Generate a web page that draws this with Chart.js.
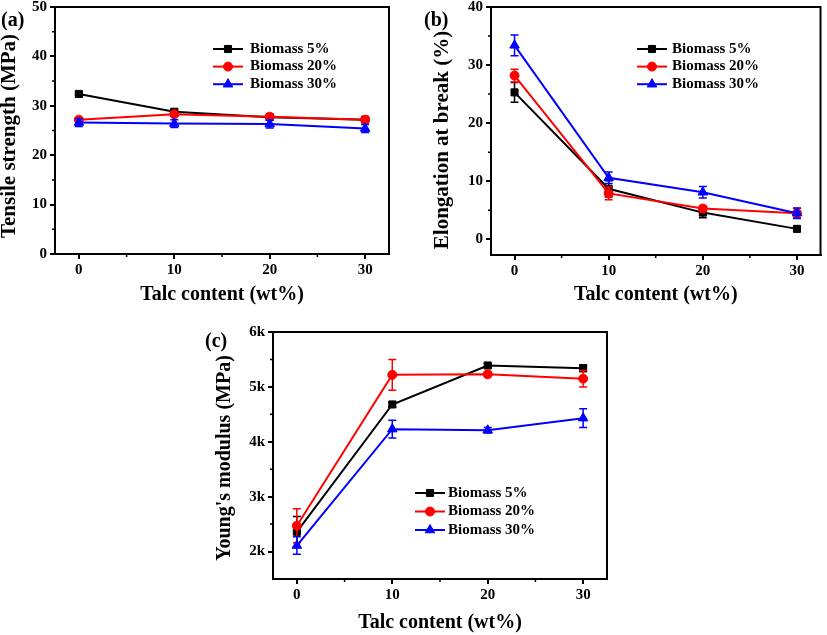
<!DOCTYPE html>
<html><head><meta charset="utf-8">
<script src="https://cdn.jsdelivr.net/npm/chart.js@4.4.1/dist/chart.umd.min.js"></script>
<style>
html,body{margin:0;padding:0;background:#fff;}
body{width:827px;height:635px;position:relative;overflow:hidden;}
canvas{position:absolute;}
</style></head><body>
<canvas id="ca" width="414" height="310" style="left:0;top:0;width:414px;height:310px"></canvas>
<canvas id="cb" width="413" height="310" style="left:414px;top:0;width:413px;height:310px"></canvas>
<canvas id="cc" width="430" height="325" style="left:200px;top:310px;width:430px;height:325px"></canvas>
<script>
// ---------- data ----------
const talc = [0, 10, 20, 30];
const talcTicks = [0, 10, 20, 30];
const seriesNames = ['Biomass 5%', 'Biomass 20%', 'Biomass 30%'];
const xTitle = 'Talc content (wt%)';

// (a) Tensile strength (MPa)
const tensile5 = [32.4, 28.8, 27.7, 27.2];
const tensile20 = [27.2, 28.3, 27.8, 27.2];
const tensile30 = [26.6, 26.4, 26.3, 25.4];
const tensileErr5 = [0.3, 0.4, 0.3, 0.4];
const tensileErr20 = [0.4, 0.4, 0.5, 0.5];
const tensileErr30 = [0.8, 0.8, 0.8, 0.8];
const tensileTicks = [0, 10, 20, 30, 40, 50];

// (b) Elongation at break (%)
const elong5 = [25.3, 8.7, 4.6, 1.8];
const elong20 = [28.2, 7.9, 5.3, 4.5];
const elong30 = [33.4, 10.6, 8.1, 4.5];
const elongErr5 = [1.7, 1.4, 0.9, 0.3];
const elongErr20 = [1.1, 1.1, 0.5, 0.8];
const elongErr30 = [1.8, 1.0, 1.0, 0.9];
const elongTicks = [0, 10, 20, 30, 40];

// (c) Young's modulus (MPa)
const modulus5 = [2360, 4680, 5390, 5340];
const modulus20 = [2470, 5220, 5230, 5150];
const modulus30 = [2110, 4230, 4210, 4430];
const modulusErr5 = [280, 50, 40, 60];
const modulusErr20 = [310, 280, 40, 150];
const modulusErr30 = [160, 160, 50, 170];
const modulusTicks = [2000, 3000, 4000, 5000, 6000];
const modulusTickLabels = ['2k', '3k', '4k', '5k', '6k'];

// ---------- styles ----------
const FONT = "'Liberation Serif','Times New Roman',serif";
const colors = ['#000000', '#ff0000', '#0000ff'];
const styles = ['rect', 'circle', 'triangle'];
const radii = [5, 4.5, 5.5];

function mids(arr) { const m = []; for (let i = 0; i < arr.length - 1; i++) m.push((arr[i] + arr[i + 1]) / 2); return m; }

function makeDatasets(vals, errs) {
  return vals.map((v, i) => ({
    label: seriesNames[i],
    data: talc.map((x, j) => ({ x: x, y: v[j] })),
    errors: errs[i],
    borderColor: colors[i], backgroundColor: colors[i],
    pointBackgroundColor: colors[i], pointBorderColor: colors[i],
    pointStyle: styles[i], pointRadius: radii[i], pointBorderWidth: 1,
    pointHoverRadius: radii[i],
    borderWidth: 2, tension: 0, order: 3 - i, clip: false
  }));
}

function drawMarker(ctx, style, r, x, y, color) {
  ctx.save();
  ctx.fillStyle = color; ctx.strokeStyle = color; ctx.lineWidth = 1;
  ctx.beginPath();
  if (style === 'rect') { const s = r * Math.SQRT1_2; ctx.rect(x - s, y - s, 2 * s, 2 * s); }
  else if (style === 'circle') { ctx.arc(x, y, r, 0, 2 * Math.PI); }
  else {
    let rad = 0;
    ctx.moveTo(x + Math.sin(rad) * r, y - Math.cos(rad) * r);
    rad += 2 * Math.PI / 3; ctx.lineTo(x + Math.sin(rad) * r, y - Math.cos(rad) * r);
    rad += 2 * Math.PI / 3; ctx.lineTo(x + Math.sin(rad) * r, y - Math.cos(rad) * r);
    ctx.closePath();
  }
  ctx.fill(); ctx.stroke();
  ctx.restore();
}

function buildChart(id, p) {
  const plugins = [
    { id: 'frame',
      beforeDatasetsDraw(chart) {
        const a = chart.chartArea, ctx = chart.ctx;
        ctx.save(); ctx.strokeStyle = '#000'; ctx.lineWidth = 2;
        ctx.strokeRect(a.left, a.top, a.right - a.left, a.bottom - a.top);
        ctx.restore();
      } },
    { id: 'errorBars',
      beforeDatasetDraw(chart, args) {
        const ds = chart.data.datasets[args.index];
        const xs = chart.scales.x, ys = chart.scales.y, ctx = chart.ctx;
        ctx.save(); ctx.strokeStyle = ds.borderColor; ctx.lineWidth = 1.5;
        ds.data.forEach((pt, j) => {
          const e = ds.errors[j];
          const px = xs.getPixelForValue(pt.x);
          const t = ys.getPixelForValue(pt.y + e), b = ys.getPixelForValue(pt.y - e);
          ctx.beginPath();
          ctx.moveTo(px, t); ctx.lineTo(px, b);
          ctx.moveTo(px - 4, t); ctx.lineTo(px + 4, t);
          ctx.moveTo(px - 4, b); ctx.lineTo(px + 4, b);
          ctx.stroke();
        });
        ctx.restore();
      } },
    { id: 'minorTicks',
      afterDraw(chart) {
        const a = chart.chartArea, ctx = chart.ctx, xs = chart.scales.x, ys = chart.scales.y;
        ctx.save(); ctx.strokeStyle = '#000'; ctx.lineWidth = 1.5;
        ctx.beginPath();
        mids(talcTicks).forEach(v => { const px = xs.getPixelForValue(v); ctx.moveTo(px, a.bottom); ctx.lineTo(px, a.bottom + 3); });
        mids(p.yTicks).forEach(v => { const py = ys.getPixelForValue(v); ctx.moveTo(a.left, py); ctx.lineTo(a.left - 3, py); });
        ctx.stroke(); ctx.restore();
      } },
    { id: 'seriesKey',
      afterDraw(chart) {
        const ctx = chart.ctx, L = p.legend;
        chart.data.datasets.forEach((ds, i) => {
          const y = L.y + i * L.rowH;
          ctx.save(); ctx.strokeStyle = ds.borderColor; ctx.lineWidth = 2;
          ctx.beginPath(); ctx.moveTo(L.x, y); ctx.lineTo(L.x + L.len, y); ctx.stroke(); ctx.restore();
          drawMarker(ctx, ds.pointStyle, ds.pointRadius, L.x + L.len / 2, y, ds.borderColor);
          ctx.save(); ctx.fillStyle = '#000'; ctx.font = 'bold 15px ' + FONT;
          ctx.textAlign = 'left'; ctx.textBaseline = 'middle';
          ctx.fillText(ds.label, L.textX, y); ctx.restore();
        });
      } },
    { id: 'panelText',
      afterDraw(chart) {
        const ctx = chart.ctx;
        ctx.save(); ctx.fillStyle = '#000'; ctx.font = 'bold 20px ' + FONT;
        ctx.textAlign = 'left'; ctx.textBaseline = 'middle';
        ctx.fillText(p.label.text, p.label.x, p.label.y); ctx.restore();
        // y axis title
        const T = p.yTitle;
        ctx.save(); ctx.fillStyle = '#000'; ctx.font = 'bold ' + T.size + 'px ' + FONT;
        ctx.translate(T.x, T.y); ctx.rotate(-Math.PI / 2);
        ctx.textAlign = 'center'; ctx.textBaseline = 'middle';
        ctx.fillText(T.text, 0, 0); ctx.restore();
      } }
  ];
  const zeroPad = s => { s.paddingLeft = 0; s.paddingRight = 0; s.paddingTop = 0; s.paddingBottom = 0; };
  return new Chart(document.getElementById(id), {
    type: 'line',
    data: { datasets: makeDatasets(p.values, p.errors) },
    options: {
      responsive: false, animation: false, devicePixelRatio: 1,
      events: [],
      layout: { padding: { top: p.padTop, right: p.padRight, left: 0, bottom: 0 } },
      plugins: { legend: { display: false }, tooltip: { enabled: false } },
      scales: {
        x: {
          type: 'linear', position: 'bottom', min: -2.5, max: 32.5,
          afterBuildTicks: s => { s.ticks = talcTicks.map(v => ({ value: v })); },
          afterFit: s => { s.height = p.xHeight; zeroPad(s); },
          grid: { display: true, drawOnChartArea: false, drawTicks: true, tickLength: 5, color: '#000', lineWidth: 2 },
          border: { display: true, color: '#000', width: 2 },
          ticks: { color: '#000', font: { family: FONT, size: 15, weight: 'bold', lineHeight: 1 }, padding: 4, maxRotation: 0, autoSkip: false },
          title: { display: true, text: xTitle, color: '#000', font: { family: FONT, size: 20, weight: 'bold', lineHeight: 1 }, padding: { top: 0, bottom: p.xTitlePad } }
        },
        y: {
          type: 'linear', position: 'left', min: p.yMin, max: p.yMax,
          afterBuildTicks: s => { s.ticks = p.yTicks.map(v => ({ value: v })); },
          afterFit: s => { s.width = p.yWidth; zeroPad(s); },
          grid: { display: true, drawOnChartArea: false, drawTicks: true, tickLength: 5, color: '#000', lineWidth: 2 },
          border: { display: true, color: '#000', width: 2 },
          ticks: { color: '#000', font: { family: FONT, size: 15, weight: 'bold', lineHeight: 1 }, padding: 3, autoSkip: false,
                   callback: (v, i) => p.yLabels ? p.yLabels[i] : String(v) },
          title: { display: false }
        }
      }
    },
    plugins: plugins
  });
}

buildChart('ca', {
  values: [tensile5, tensile20, tensile30], errors: [tensileErr5, tensileErr20, tensileErr30],
  yMin: 0, yMax: 50, yTicks: tensileTicks,
  yTitle: { text: 'Tensile strength (MPa)', size: 21, x: 9.5, y: 136 },
  padTop: 7, padRight: 25, yWidth: 55, xHeight: 56, xTitlePad: 5,
  legend: { x: 213, y: 49, len: 30, textX: 250, rowH: 17.6 },
  label: { text: '(a)', x: 1, y: 21 }
});
buildChart('cb', {
  values: [elong5, elong20, elong30], errors: [elongErr5, elongErr20, elongErr30],
  yMin: -2.7, yMax: 40, yTicks: elongTicks,
  yTitle: { text: 'Elongation at break (%)', size: 21, x: 28.5, y: 140 },
  padTop: 7, padRight: 3, yWidth: 77, xHeight: 55, xTitlePad: 5,
  legend: { x: 223, y: 49, len: 30, textX: 258, rowH: 17.6 },
  label: { text: '(b)', x: 10, y: 21 }
});
buildChart('cc', {
  values: [modulus5, modulus20, modulus30], errors: [modulusErr5, modulusErr20, modulusErr30],
  yMin: 1500, yMax: 6000, yTicks: modulusTicks, yLabels: modulusTickLabels,
  yTitle: { text: "Young's modulus (MPa)", size: 20, x: 24.8, y: 148 },
  padTop: 22, padRight: 23, yWidth: 73, xHeight: 56, xTitlePad: 2,
  legend: { x: 215, y: 183, len: 30, textX: 248, rowH: 18.5 },
  label: { text: '(c)', x: 5, y: 32 }
});
</script>
</body></html>
